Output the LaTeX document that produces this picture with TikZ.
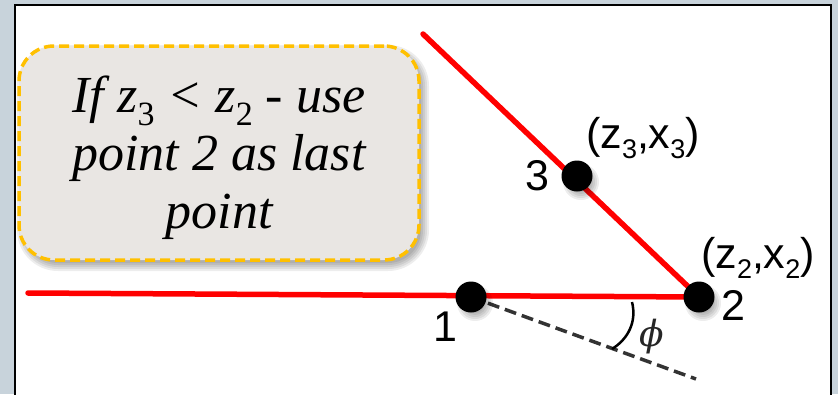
\documentclass[tikz,border=0pt]{standalone}
\usepackage{fontspec}
\setmainfont{Liberation Serif}
\newfontfamily\labfont{Liberation Sans}
\newfontfamily\greekfont{DejaVu Serif}
\definecolor{framebg}{RGB}{200,211,219}
\definecolor{boxfill}{RGB}{233,230,227}
\definecolor{boxline}{RGB}{255,192,0}
\definecolor{redl}{RGB}{255,0,0}
\newcommand{\lsub}[1]{\raisebox{-0.22em}{\fontsize{27}{27}\selectfont #1}}
\newcommand{\bsub}[1]{\raisebox{-0.25em}{\fontsize{34}{34}\selectfont\upshape #1}}
\begin{document}
\begin{tikzpicture}[x=1pt,y=-1pt,
  redline/.style={draw=redl,line width=5.5pt,line cap=round},
  dashline/.style={draw=black!80,line width=3.5pt,dash pattern=on 12pt off 6pt},
  dot/.style={circle,fill=black,minimum size=31pt,inner sep=0pt},
  softshadow/.style={fill=black,opacity=0.07},
  lbl/.style={font=\labfont\fontsize{43}{43}\selectfont,inner sep=0pt,text=black},
  callout/.style={fill=boxfill,draw=boxline,line width=3.5pt,dash pattern=on 10pt off 5pt,
    rounded corners=35pt,minimum width=400pt,minimum height=214pt,inner sep=0pt},
  callouttext/.style={font=\fontsize{52}{58}\selectfont\itshape,align=center,inner sep=0pt,text=black},
  anglemark/.style={draw=black,line width=2.5pt}
]
\useasboundingbox (0,0) rectangle (838,394);
\clip (0,0) rectangle (838,394);
% frame
\fill[framebg] (0,0) rectangle (838,394);
\draw[fill=white,line width=2pt] (15,5) rectangle (831,420);

% point positions
\coordinate (c1) at (471,297);
\coordinate (c2) at (699,297);
\coordinate (c3) at (577,176);
\coordinate (L) at (28,293);
\coordinate (T) at (423,34);
\coordinate (D) at (696,379);

% lines
\draw[redline] (L) -- (c2);
\draw[redline] (T) -- (c2);
\draw[dashline] (c1) -- (D);

% angle mark
\coordinate (a1) at (632,302);
\coordinate (a2) at (612,349);
\draw[anglemark] (a1) .. controls (637,322) and (628,339) .. (a2);
\node[font=\greekfont\itshape\fontsize{36}{36}\selectfont,text=black!85,inner sep=0pt] (phi) at (652,337) {ϕ};

% dot shadows and dots
\foreach \c in {c1,c2,c3}{
  \foreach \r in {10,12,14,16,18}{
    \fill[softshadow] ([shift={(4,6)}]\c) circle (\r pt);
  }
}
\node[dot] (p1) at (c1) {};
\node[dot] (p2) at (c2) {};
\node[dot] (p3) at (c3) {};

% labels
\node[lbl] (n1) at (445,327) {1};
\node[lbl] (n2) at (733,305) {2};
\node[lbl] (n3) at (537,176) {3};
\node[lbl] (t3) at (643,138) {(z\lsub{3},x\lsub{3})};
\node[lbl] (t2) at (758,258) {(z\lsub{2},x\lsub{2})};

% callout shadow
\foreach \r in {-2,0,2,4,6}{
  \fill[softshadow,rounded corners=35pt+\r pt] (23-\r,51-\r) rectangle (423+\r,265+\r);
}
% callout
\node[callout] (box) at (219,153) {};
\node[callouttext] (boxtext) at (219,158) {If z\bsub{3} < z\bsub{2} - use\\point 2 as last\\point};
\end{tikzpicture}
\end{document}
